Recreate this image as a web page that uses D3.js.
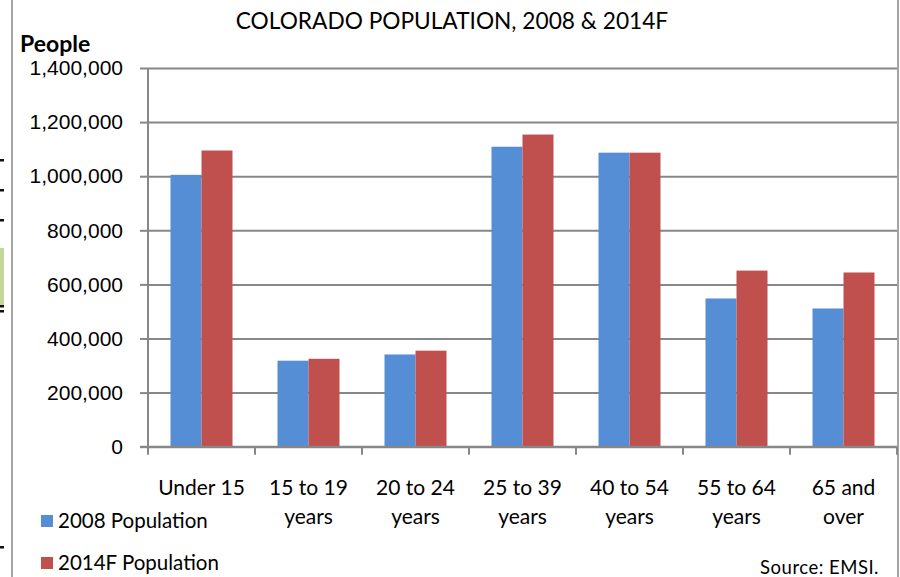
<!DOCTYPE html>
<html>
<head>
<meta charset="utf-8">
<script src="https://cdn.jsdelivr.net/npm/d3@7"></script>
<style>
  html, body { margin: 0; padding: 0; background: #fff; }
  svg { display: block; font-family: Lato, "Open Sans", sans-serif; }
</style>
</head>
<body>
<svg id="chart"></svg>
<script>
// age groups, each label split on two lines
const categories = ["Under 15", "15 to 19 years", "20 to 24 years", "25 to 39 years", "40 to 54 years", "55 to 64 years", "65 and over"];
const categoryLines = [["Under 15", ""], ["15 to 19", "years"], ["20 to 24", "years"], ["25 to 39", "years"], ["40 to 54", "years"], ["55 to 64", "years"], ["65 and", "over"]];

const seriesNames = ["2008 Population", "2014F Population"];
const pop2008 = [1005000, 318000, 341000, 1109000, 1087000, 548000, 511000];
const pop2014 = [1095000, 325000, 355000, 1154000, 1087000, 651000, 644000];

const yTicks = [0, 200000, 400000, 600000, 800000, 1000000, 1200000, 1400000];

const width = 900;
const height = 577;
const margin = { top: 68, right: 3, bottom: 130, left: 148 };

const colors = ["#558ed5", "#c0504d"];
const gridColor = "#878787";

const svg = d3.select("#chart")
    .attr("width", width)
    .attr("height", height)
    .attr("viewBox", [0, 0, width, height]);

// outer frame (only the sides show)
svg.append("line").attr("x1", 12).attr("x2", 12).attr("y1", 0).attr("y2", height)
    .attr("stroke", gridColor).attr("stroke-width", 1.5);
svg.append("line").attr("x1", 898).attr("x2", 898).attr("y1", 0).attr("y2", height)
    .attr("stroke", gridColor).attr("stroke-width", 1.5);

// bits of the neighbouring sheet at the left edge
const leftDashes = [160, 190, 220, 306, 311, 547];
svg.append("rect").attr("x", 0).attr("y", 248).attr("width", 4).attr("height", 57).attr("fill", "#c4d79b");
svg.append("g").selectAll("rect").data(leftDashes).join("rect")
    .attr("x", 0).attr("y", d => d - 1).attr("width", 4).attr("height", 2.5).attr("fill", "#111");

const x0 = d3.scaleBand()
    .domain(categories)
    .range([margin.left, width - margin.right])
    .padding(0);

const x1 = d3.scaleBand()
    .domain(seriesNames)
    .range([22.5, x0.bandwidth() - 22.5]);

const y = d3.scaleLinear()
    .domain([0, 1400000])
    .range([height - margin.bottom - 0.3, margin.top]);

// gridlines + left axis
svg.append("g")
    .attr("transform", `translate(${margin.left},0)`)
    .call(d3.axisLeft(y).tickValues(yTicks).tickSize(8).tickFormat(d3.format(",")))
    .call(g => g.select(".domain").remove())
    .call(g => g.selectAll(".tick line").attr("stroke", gridColor).attr("stroke-width", 2))
    .call(g => g.selectAll(".tick line")
        .clone()
        .attr("x1", 0)
        .attr("x2", width - margin.right - margin.left))
    .call(g => g.selectAll(".tick text")
        .attr("x", -25)
        .attr("fill", "#000")
        .style("font-size", "21px"));

svg.append("line")
    .attr("x1", margin.left).attr("x2", margin.left)
    .attr("y1", y(1400000)).attr("y2", y(0) + 1)
    .attr("stroke", gridColor).attr("stroke-width", 2);

// bars
const series = seriesNames.map((name, i) => ({ name, values: i === 0 ? pop2008 : pop2014, color: colors[i] }));

svg.append("g")
    .selectAll("g")
    .data(series)
    .join("g")
    .attr("fill", d => d.color)
    .selectAll("rect")
    .data(d => d.values.map((v, i) => ({ name: d.name, cat: categories[i], value: v })))
    .join("rect")
    .attr("x", d => x0(d.cat) + x1(d.name))
    .attr("y", d => y(d.value))
    .attr("width", x1.bandwidth())
    .attr("height", d => y(0) - y(d.value));

// bottom axis
const xAxis = svg.append("g")
    .attr("transform", `translate(0,${y(0)})`);

xAxis.append("line")
    .attr("x1", margin.left - 8).attr("x2", width - margin.right)
    .attr("stroke", gridColor).attr("stroke-width", 2);

xAxis.selectAll(".tk")
    .data(categories.concat(["end"]))
    .join("line")
    .attr("class", "tk")
    .attr("x1", (d, i) => margin.left + i * x0.bandwidth())
    .attr("x2", (d, i) => margin.left + i * x0.bandwidth())
    .attr("y1", 0).attr("y2", 8)
    .attr("stroke", gridColor).attr("stroke-width", 2);

const labels = svg.append("g")
    .attr("text-anchor", "middle")
    .style("font-size", "21px")
    .selectAll("text")
    .data(categories)
    .join("text")
    .attr("x", d => x0(d) + x0.bandwidth() / 2)
    .attr("y", 495);

labels.selectAll("tspan")
    .data((d, i) => categoryLines[i])
    .join("tspan")
    .attr("x", function () { return this.parentNode.getAttribute("x"); })
    .attr("dy", (d, i) => i === 0 ? 0 : 29)
    .text(d => d);

// title and axis title
svg.append("text")
    .attr("x", 452).attr("y", 29)
    .attr("text-anchor", "middle")
    .style("font-size", "22.7px")
    .text("COLORADO POPULATION, 2008 & 2014F");

svg.append("text")
    .attr("x", 20).attr("y", 52)
    .style("font-size", "23px")
    .style("font-weight", "bold")
    .text("People");

// legend
const legend = svg.append("g")
    .selectAll("g")
    .data(series)
    .join("g")
    .attr("transform", (d, i) => `translate(41,${515 + i * 42})`);

legend.append("rect")
    .attr("width", 12).attr("height", 12)
    .attr("fill", d => d.color);

legend.append("text")
    .attr("x", 17).attr("y", 13)
    .style("font-size", "20.5px")
    .text(d => d.name);

svg.append("text")
    .attr("x", 879).attr("y", 574)
    .attr("text-anchor", "end")
    .style("font-size", "18.5px")
    .style("letter-spacing", "0.5px")
    .text("Source: EMSI.");
</script>
</body>
</html>
